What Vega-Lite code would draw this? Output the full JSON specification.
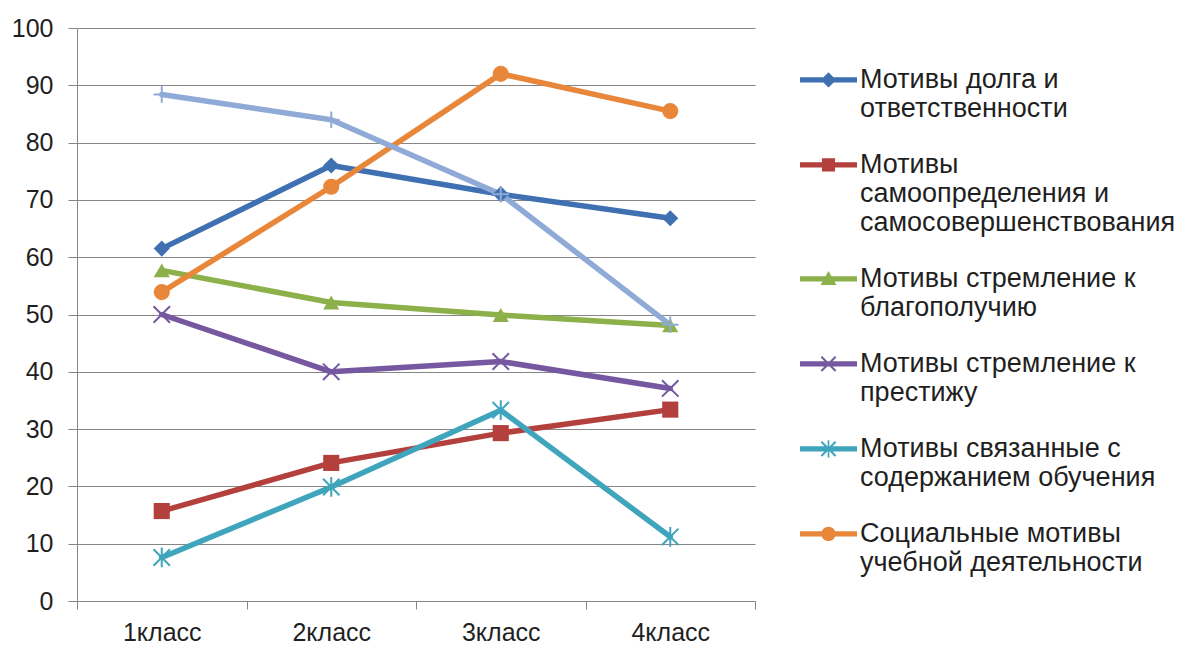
{
  "$schema": "https://vega.github.io/schema/vega-lite/v6.json",
  "width": 678,
  "height": 573,
  "autosize": "none",
  "padding": {"left": 77, "top": 28, "right": 426, "bottom": 45},
  "background": "white",
  "config": {"view": {"stroke": null}, "font": "Liberation Sans"},
  "data": {
    "values": [
      {"series": "Мотивы долга и ответственности", "grade": "1класс", "value": 61.5},
      {"series": "Мотивы долга и ответственности", "grade": "2класс", "value": 76},
      {"series": "Мотивы долга и ответственности", "grade": "3класс", "value": 71},
      {"series": "Мотивы долга и ответственности", "grade": "4класс", "value": 66.8},
      {"series": "Мотивы самоопределения и самосовершенствования", "grade": "1класс", "value": 15.7},
      {"series": "Мотивы самоопределения и самосовершенствования", "grade": "2класс", "value": 24.1},
      {"series": "Мотивы самоопределения и самосовершенствования", "grade": "3класс", "value": 29.3},
      {"series": "Мотивы самоопределения и самосовершенствования", "grade": "4класс", "value": 33.4},
      {"series": "Мотивы стремление к благополучию", "grade": "1класс", "value": 57.7},
      {"series": "Мотивы стремление к благополучию", "grade": "2класс", "value": 52.1},
      {"series": "Мотивы стремление к благополучию", "grade": "3класс", "value": 49.9},
      {"series": "Мотивы стремление к благополучию", "grade": "4класс", "value": 48.1},
      {"series": "Мотивы стремление к престижу", "grade": "1класс", "value": 50},
      {"series": "Мотивы стремление к престижу", "grade": "2класс", "value": 40},
      {"series": "Мотивы стремление к престижу", "grade": "3класс", "value": 41.8},
      {"series": "Мотивы стремление к престижу", "grade": "4класс", "value": 37.1},
      {"series": "Мотивы связанные с содержанием обучения", "grade": "1класс", "value": 7.6},
      {"series": "Мотивы связанные с содержанием обучения", "grade": "2класс", "value": 19.9},
      {"series": "Мотивы связанные с содержанием обучения", "grade": "3класс", "value": 33.3},
      {"series": "Мотивы связанные с содержанием обучения", "grade": "4класс", "value": 11.2},
      {"series": "Социальные мотивы учебной деятельности", "grade": "1класс", "value": 53.9},
      {"series": "Социальные мотивы учебной деятельности", "grade": "2класс", "value": 72.3},
      {"series": "Социальные мотивы учебной деятельности", "grade": "3класс", "value": 92},
      {"series": "Социальные мотивы учебной деятельности", "grade": "4класс", "value": 85.5},
      {"series": "Ряд7", "grade": "1класс", "value": 88.4},
      {"series": "Ряд7", "grade": "2класс", "value": 84},
      {"series": "Ряд7", "grade": "3класс", "value": 71},
      {"series": "Ряд7", "grade": "4класс", "value": 48.2}
    ]
  },
  "encoding": {
    "x": {
      "field": "grade", "type": "nominal", "sort": null,
      "scale": {"type": "band", "paddingInner": 0, "paddingOuter": 0},
      "axis": {
        "title": null, "labelAngle": 0, "tickBand": "extent", "tickSize": 8,
        "tickColor": "#868686", "domainColor": "#868686", "domainWidth": 1, "tickWidth": 1,
        "labelFont": "Liberation Sans", "labelFontSize": 25, "labelColor": "#1f1f1f",
        "labelPadding": 11, "grid": false
      }
    },
    "y": {
      "field": "value", "type": "quantitative",
      "scale": {"domain": [0, 100], "nice": false},
      "axis": {
        "title": null, "values": [0, 10, 20, 30, 40, 50, 60, 70, 80, 90, 100],
        "tickSize": 9, "tickColor": "#868686", "domainColor": "#868686", "tickWidth": 1,
        "grid": true, "gridColor": "#868686", "gridWidth": 1,
        "labelFont": "Liberation Sans", "labelFontSize": 25, "labelColor": "#1f1f1f",
        "labelPadding": 15, "labelFlush": false, "labelOverlap": false
      }
    }
  },
  "layer": [
    {
      "mark": {"type": "line", "strokeWidth": 5.5, "strokeJoin": "round", "strokeCap": "round"},
      "encoding": {
        "color": {
          "field": "series", "type": "nominal", "sort": null, "legend": null,
          "scale": {
            "domain": ["Мотивы долга и ответственности", "Мотивы самоопределения и самосовершенствования", "Мотивы стремление к благополучию", "Мотивы стремление к престижу", "Мотивы связанные с содержанием обучения", "Социальные мотивы учебной деятельности", "Ряд7"],
            "range": ["#3F70B2", "#B3403C", "#8CB14A", "#7558A0", "#3EA5BD", "#E8863A", "#8FAAD6"]
          }
        }
      }
    },
    {
      "transform": [{"filter": {"field": "series", "oneOf": ["Мотивы долга и ответственности", "Мотивы самоопределения и самосовершенствования", "Мотивы стремление к благополучию", "Социальные мотивы учебной деятельности"]}}],
      "mark": {"type": "point", "filled": true, "opacity": 1, "size": 260},
      "encoding": {
        "color": {
          "field": "series", "type": "nominal", "legend": null,
          "scale": {
            "domain": ["Мотивы долга и ответственности", "Мотивы самоопределения и самосовершенствования", "Мотивы стремление к благополучию", "Социальные мотивы учебной деятельности"],
            "range": ["#3F70B2", "#B3403C", "#8CB14A", "#E8863A"]
          }
        },
        "shape": {
          "field": "series", "type": "nominal", "legend": null,
          "scale": {
            "domain": ["Мотивы долга и ответственности", "Мотивы самоопределения и самосовершенствования", "Мотивы стремление к благополучию", "Социальные мотивы учебной деятельности"],
            "range": ["diamond", "square", "triangle-up", "circle"]
          }
        }
      }
    },
    {
      "transform": [{"filter": {"field": "series", "oneOf": ["Мотивы стремление к престижу", "Мотивы связанные с содержанием обучения", "Ряд7"]}}],
      "mark": {"type": "point", "filled": false, "opacity": 1, "size": 270, "strokeWidth": 2},
      "encoding": {
        "color": {
          "field": "series", "type": "nominal", "legend": null,
          "scale": {
            "domain": ["Мотивы стремление к престижу", "Мотивы связанные с содержанием обучения", "Ряд7"],
            "range": ["#7558A0", "#3EA5BD", "#8FAAD6"]
          }
        },
        "shape": {
          "field": "series", "type": "nominal", "legend": null,
          "scale": {
            "domain": ["Мотивы стремление к престижу", "Мотивы связанные с содержанием обучения", "Ряд7"],
            "range": ["M-1,-1L1,1M-1,1L1,-1", "M-1,-1L1,1M-1,1L1,-1M0,-1.2V1.2", "M-1,0H1M0,-1V1"]
          }
        }
      }
    },
    {
      "transform": [{"filter": "false"}],
      "mark": {"type": "point", "filled": true, "opacity": 1},
      "encoding": {
        "color": {
          "field": "series", "type": "nominal",
          "scale": {
            "domain": ["Мотивы долга и ответственности", "Мотивы самоопределения и самосовершенствования", "Мотивы стремление к благополучию", "Мотивы стремление к престижу", "Мотивы связанные с содержанием обучения", "Социальные мотивы учебной деятельности"],
            "range": ["#3F70B2", "#B3403C", "#8CB14A", "#7558A0", "#3EA5BD", "#E8863A"]
          },
          "legend": {
            "title": null, "orient": "none", "legendX": 723, "legendY": 10,
            "symbolSize": 3249, "symbolStrokeWidth": 0, "padding": 0, "rowPadding": 1,
            "labelFont": "Liberation Sans", "labelFontSize": 27, "labelColor": "#1f1f1f",
            "labelLimit": 0, "labelOffset": 3, "labelLineHeight": 31, "labelBaseline": "top",
            "labelExpr": "datum.label == 'Мотивы долга и ответственности' ? ['Мотивы долга и', 'ответственности'] : datum.label == 'Мотивы самоопределения и самосовершенствования' ? ['Мотивы', 'самоопределения и', 'самосовершенствования'] : datum.label == 'Мотивы стремление к благополучию' ? ['Мотивы стремление к', 'благополучию'] : datum.label == 'Мотивы стремление к престижу' ? ['Мотивы стремление к', 'престижу'] : datum.label == 'Мотивы связанные с содержанием обучения' ? ['Мотивы связанные с', 'содержанием обучения'] : ['Социальные мотивы', 'учебной деятельности']"
          }
        },
        "shape": {
          "field": "series", "type": "nominal",
          "scale": {
            "domain": ["Мотивы долга и ответственности", "Мотивы самоопределения и самосовершенствования", "Мотивы стремление к благополучию", "Мотивы стремление к престижу", "Мотивы связанные с содержанием обучения", "Социальные мотивы учебной деятельности"],
            "range": [
              "M-1,0.38H1V0.56H-1Z M0,0.2L0.27,0.47L0,0.74L-0.27,0.47Z",
              "M-1,0.38H1V0.56H-1Z M-0.23,0.24H0.23V0.7H-0.23Z",
              "M-1,0.38H1V0.56H-1Z M0,0.19L0.28,0.68H-0.28Z",
              "M-1,0.38H1V0.56H-1Z M-0.225,0.195L0.275,0.695L0.225,0.745L-0.275,0.245Z M-0.275,0.695L0.225,0.195L0.275,0.245L-0.225,0.745Z",
              "M-1,0.38H1V0.56H-1Z M-0.225,0.195L0.275,0.695L0.225,0.745L-0.275,0.245Z M-0.275,0.695L0.225,0.195L0.275,0.245L-0.225,0.745Z M-0.03,0.17H0.03V0.77H-0.03Z",
              "M-1,0.38H1V0.56H-1Z M-0.25,0.47A0.25,0.25 0 1 1 0.25,0.47A0.25,0.25 0 1 1 -0.25,0.47Z"
            ]
          },
          "legend": {
            "title": null, "orient": "none", "legendX": 723, "legendY": 10,
            "symbolSize": 3249, "symbolStrokeWidth": 0, "padding": 0, "rowPadding": 1,
            "labelFont": "Liberation Sans", "labelFontSize": 27, "labelColor": "#1f1f1f",
            "labelLimit": 0, "labelOffset": 3, "labelLineHeight": 31, "labelBaseline": "top",
            "labelExpr": "datum.label == 'Мотивы долга и ответственности' ? ['Мотивы долга и', 'ответственности'] : datum.label == 'Мотивы самоопределения и самосовершенствования' ? ['Мотивы', 'самоопределения и', 'самосовершенствования'] : datum.label == 'Мотивы стремление к благополучию' ? ['Мотивы стремление к', 'благополучию'] : datum.label == 'Мотивы стремление к престижу' ? ['Мотивы стремление к', 'престижу'] : datum.label == 'Мотивы связанные с содержанием обучения' ? ['Мотивы связанные с', 'содержанием обучения'] : ['Социальные мотивы', 'учебной деятельности']"
          }
        }
      }
    }
  ],
  "resolve": {"scale": {"color": "independent", "shape": "independent"}}
}
